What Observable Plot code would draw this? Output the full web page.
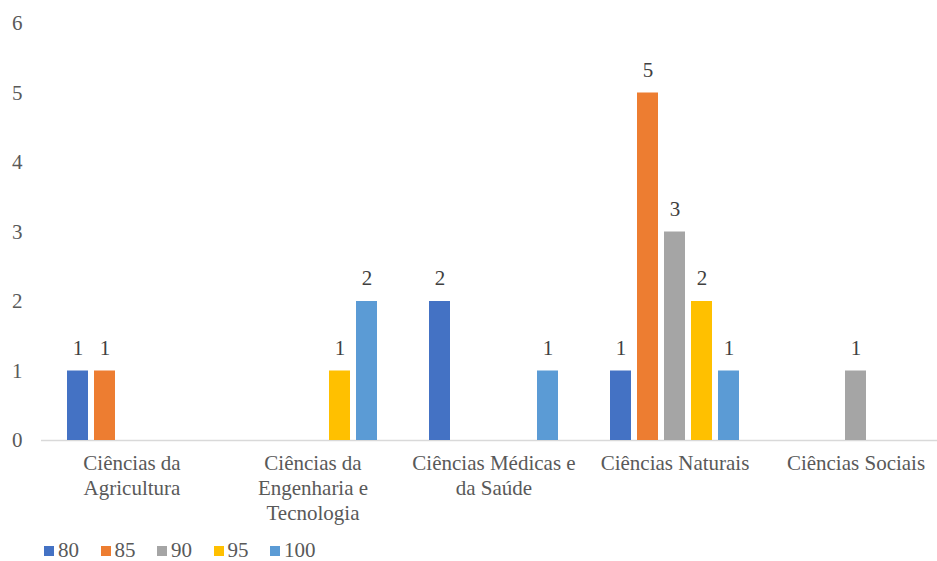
<!DOCTYPE html>
<html>
<head>
<meta charset="utf-8">
<script src="https://cdn.jsdelivr.net/npm/d3@7"></script>
<script src="https://cdn.jsdelivr.net/npm/@observablehq/plot@0.6"></script>
<style>
  body { margin: 0; background: #fff; font-family: 'Liberation Serif', 'DejaVu Serif', serif; }
  #legend { display: flex; padding-left: 44px; padding-top: 2px; height: 21px; align-items: center; font-size: 21px; color: #595959; font-family: 'Liberation Serif', 'DejaVu Serif', serif; }
  #legend .item { display: flex; align-items: center; width: 56.5px; }
  #legend .sw { width: 10px; height: 10px; margin-right: 4px; }
  svg text { font-family: 'Liberation Serif', 'DejaVu Serif', serif; }
</style>
</head>
<body>
<div id="chart"></div>
<div id="legend"></div>
<script>
const categories = ["Ciências da Agricultura", "Ciências da Engenharia e Tecnologia", "Ciências Médicas e da Saúde", "Ciências Naturais", "Ciências Sociais"];
const categoryLabels = ["Ciências da\nAgricultura", "Ciências da\nEngenharia e\nTecnologia", "Ciências Médicas e\nda Saúde", "Ciências Naturais", "Ciências Sociais"];
const series = ["80", "85", "90", "95", "100"];
const v80  = [1, 0, 2, 1, 0];
const v85  = [1, 0, 0, 5, 0];
const v90  = [0, 0, 0, 3, 1];
const v95  = [0, 1, 0, 2, 0];
const v100 = [0, 2, 1, 1, 0];
const colors = ["#4472C4", "#ED7D31", "#A5A5A5", "#FFC000", "#5B9BD5"];
const yTicks = [0, 1, 2, 3, 4, 5, 6];

const valuesBySeries = [v80, v85, v90, v95, v100];
const data = [];
series.forEach((s, si) => {
  categories.forEach((c, ci) => {
    const v = valuesBySeries[si][ci];
    if (v > 0) data.push({cat: c, s, v});
  });
});
const labelOf = new Map(categories.map((c, i) => [c, categoryLabels[i]]));

const chart = Plot.plot({
  width: 937,
  height: 538,
  marginLeft: 39,
  marginRight: 0,
  marginTop: 23,
  marginBottom: 98,
  style: {fontFamily: "'Liberation Serif', 'DejaVu Serif', serif", fontSize: "21px", color: "#595959", background: "#fff"},
  fx: {domain: categories, range: [39, 947], padding: 0, label: null, axis: null},
  x: {domain: series, paddingInner: 0.21, paddingOuter: 0.857, axis: null},
  y: {domain: [0, 6], label: null, axis: null},
  color: {domain: series, range: colors},
  marks: [
    Plot.axisY(yTicks, {anchor: "left", tickSize: 0, tickPadding: 19, tickFormat: d => String(d), label: null, fill: "#595959", fontSize: 21}),
    Plot.axisFx({anchor: "bottom", tickSize: 0, tickPadding: 12, tickFormat: d => labelOf.get(d), lineHeight: 1.19, label: null, fill: "#595959", fontSize: 21}),
    Plot.ruleY([0], {stroke: "#d9d9d9", strokeWidth: 1.5}),
    Plot.barY(data, {fx: "cat", x: "s", y: "v", fill: "s"}),
    Plot.text(data, {fx: "cat", x: "s", y: "v", text: d => String(d.v), dy: -23, fill: "#404040", fontSize: 21})
  ]
});
document.getElementById("chart").appendChild(chart);

const legend = document.getElementById("legend");
series.forEach((s, i) => {
  const item = document.createElement("div");
  item.className = "item";
  const sw = document.createElement("span");
  sw.className = "sw";
  sw.style.background = colors[i];
  const t = document.createElement("span");
  t.textContent = s;
  item.appendChild(sw);
  item.appendChild(t);
  legend.appendChild(item);
});
</script>
</body>
</html>
